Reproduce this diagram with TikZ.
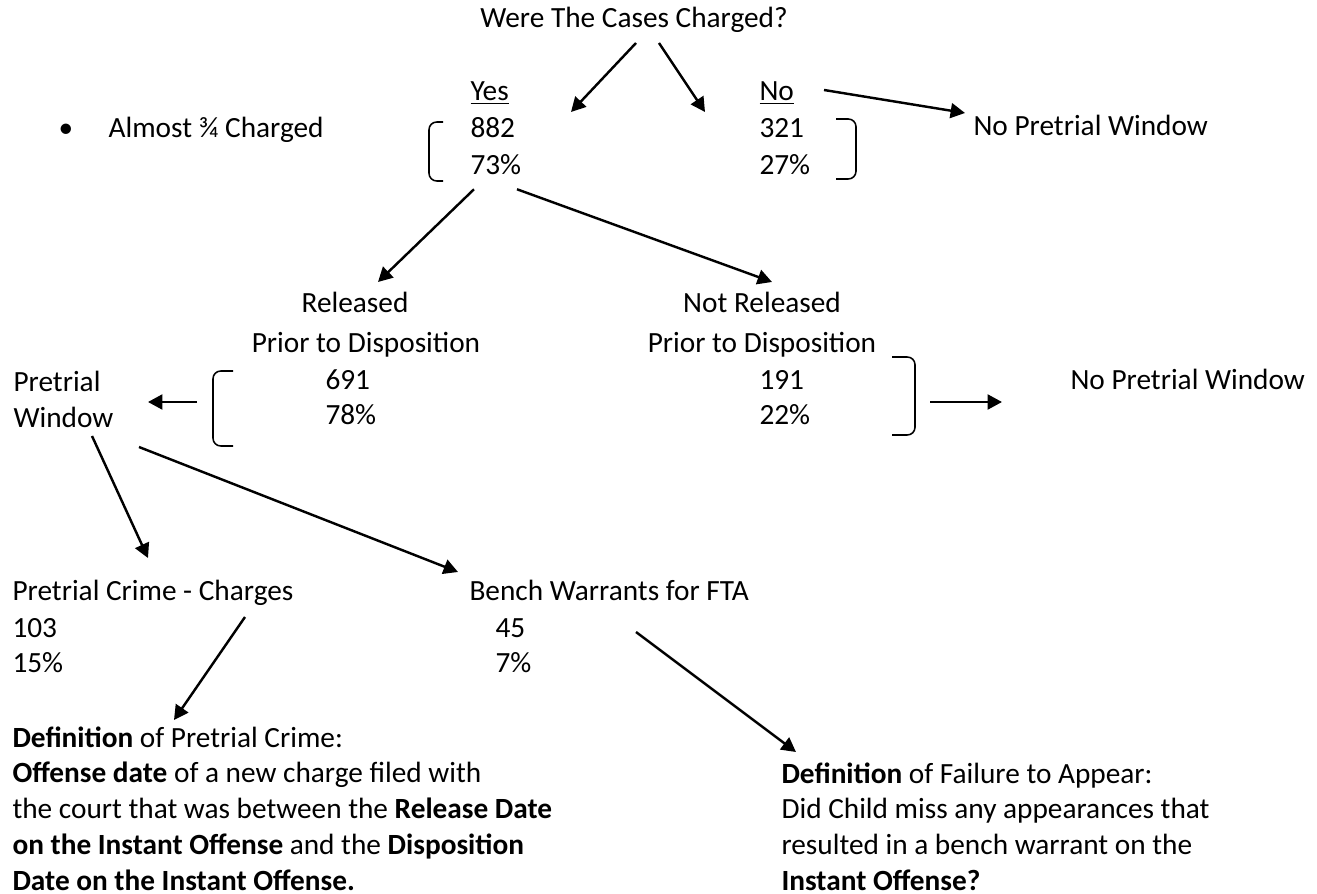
\documentclass[tikz,border=0pt]{standalone}
\usepackage{fontspec}
\setmainfont{Carlito}
\usepackage{tikz}
\usetikzlibrary{positioning}
\usetikzlibrary{arrows.meta}

\tikzset{
  txt/.style={inner sep=0pt, text height=8pt, text depth=2.5pt, anchor=west},
  para/.style={inner sep=0pt, anchor=west, align=left},
  link/.style={line width=0.95pt, -{Triangle[length=5.6pt,width=5.8pt]}},
  bracket/.style={line width=0.6pt, rounded corners=3pt},
}

\begin{document}
\begin{tikzpicture}[x=0.389pt, y=-0.389pt, node distance=3.6pt, font=\fontsize{11.4pt}{13.9pt}\selectfont]
\useasboundingbox (0,0) rectangle (1317,894);

\node (question) [txt, anchor=center] at (634,20) {Were The Cases Charged?};

\node (note) [txt] at (58,130) {\makebox[19.5pt][l]{\textbullet}Almost ¾ Charged};

\node (yes) [txt] at (470,93) {\underline{Yes}};
\node (yescount) [txt] at (470,130) {882};
\node (yespct) [txt, below=of yescount.south west, anchor=north west] {73\%};

\node (no) [txt] at (759,93) {\underline{No}};
\node (nocount) [txt] at (759,130) {321};
\node (nopct) [txt, below=of nocount.south west, anchor=north west] {27\%};

\node (nowindow) [txt] at (973,128) {No Pretrial Window};

\draw [bracket] (443,122) -- (429,122) -- (429,181) -- (443,181);
\draw [bracket] (836,119) -- (856,119) -- (856,179) -- (836,179);

\node (released) [txt, anchor=center] at (355,305) {Released};
\node (relprior) [txt, anchor=center] at (366,345) {Prior to Disposition};
\node (relcount) [txt] at (325,382) {691};
\node (relpct) [txt] at (325,417) {78\%};

\node (notreleased) [txt, anchor=center] at (762,305) {Not Released};
\node (notprior) [txt, anchor=center] at (762,345) {Prior to Disposition};
\node (notcount) [txt] at (759,382) {191};
\node (notpct) [txt] at (759,417) {22\%};

\draw [bracket] (233,371) -- (213,371) -- (213,446) -- (233,446);
\draw [bracket] (892,357) -- (915,357) -- (915,435) -- (892,435);

\node (window) [para] at (13,399.5) {Pretrial\\Window};
\node (nowindow2) [txt] at (1070,382) {No Pretrial Window};

\node (crime) [txt] at (12,593) {Pretrial Crime - Charges};
\node (crimecount) [txt] at (12,630) {103};
\node (crimepct) [txt] at (12,665) {15\%};

\node (bench) [txt] at (469,593) {Bench Warrants for FTA};
\node (benchcount) [txt] at (495,630) {45};
\node (benchpct) [txt] at (495,665) {7\%};

\node (crimedef) [para] at (12,808.5) {\textbf{Definition} of Pretrial Crime:\\
\textbf{Offense date} of a new charge filed with\\
the court that was between the \textbf{Release Date}\\
\textbf{on the Instant Offense} and the \textbf{Disposition}\\
\textbf{Date on the Instant Offense.}};

\node (ftadef) [para] at (781,826.5) {\textbf{Definition} of Failure to Appear:\\
Did Child miss any appearances that\\
resulted in a bench warrant on the\\
\textbf{Instant Offense?}};

% arrows
\draw [link] ([shift={(2,23)}]question.center) -- ([shift={(101,-18)}]yescount.west);
\draw [link] ([shift={(25,23)}]question.center) -- ([shift={(-54,-18)}]nocount.west);
\draw [link] ([shift={(65,-3)}]no.west) -- ([shift={(-8,-15)}]nowindow.west);
\draw [link] ([shift={(4,22)}]yespct.west) -- ([shift={(23,-23)}]released.center);
\draw [link] ([shift={(47,22)}]yespct.west) -- ([shift={(10,-23)}]notreleased.center);
\draw [link] ([shift={(-128,-15)}]relpct.west) -- ([shift={(135,2.5)}]window.west);
\draw [link] ([shift={(171,-15)}]notpct.west) -- ([shift={(-68,20)}]nowindow2.west);
\draw [link] ([shift={(79,36.5)}]window.west) -- ([shift={(136,-35)}]crime.west);
\draw [link] ([shift={(126,47.5)}]window.west) -- ([shift={(-11,-21)}]bench.west);
\draw [link] ([shift={(233,24)}]crime.west) -- ([shift={(162,-88.5)}]crimedef.west);
\draw [link] ([shift={(141,2)}]benchcount.west) -- ([shift={(15,-74.5)}]ftadef.west);

\end{tikzpicture}
\end{document}
